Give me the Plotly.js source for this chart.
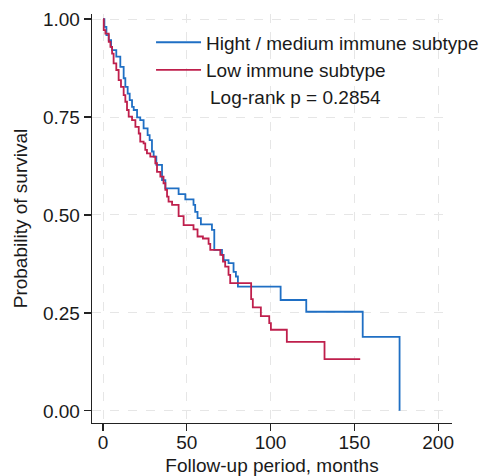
<!DOCTYPE html>
<html>
<head>
<meta charset="utf-8">
<script src="https://cdn.plot.ly/plotly-3.0.1.min.js"></script>
<style>html,body{margin:0;padding:0;background:#fff;}#chart{width:483px;height:476px;}</style>
</head>
<body>
<div id="chart"></div>
<script>
// Kaplan-Meier step data
var seriesNames = ["Hight / medium immune subtype", "Low immune subtype"];
var pValueText = "Log-rank p = 0.2854";

var highTime = [0, 0.8, 2.0, 3.4, 4.8, 5.4, 7.9, 10.3, 12.3, 13.3, 14.7, 15.9, 17.3, 18.3, 20.3, 22.2, 24.2, 26.6, 27.8, 29.2, 30.2, 31.8, 35.2, 37.2, 45.1, 49.1, 54.0, 55.0, 56.4, 58.4, 65.0, 66.4, 71.0, 72.0, 74.9, 77.9, 79.3, 80.5, 106, 121.3, 155, 177];
var highSurv = [1, 0.980, 0.959, 0.946, 0.929, 0.921, 0.904, 0.878, 0.849, 0.827, 0.810, 0.793, 0.776, 0.768, 0.749, 0.742, 0.721, 0.704, 0.691, 0.662, 0.649, 0.628, 0.589, 0.568, 0.553, 0.540, 0.526, 0.508, 0.492, 0.476, 0.462, 0.411, 0.398, 0.385, 0.377, 0.355, 0.343, 0.317, 0.283, 0.253, 0.189, 0];

var lowTime = [0, 0.4, 1.4, 3.4, 4.4, 5.4, 6.3, 7.9, 9.3, 10.7, 12.3, 13.3, 14.3, 15.3, 17.3, 19.3, 21.3, 22.2, 24.2, 25.2, 26.2, 28.2, 31.2, 32.2, 34.2, 36.1, 37.2, 38.2, 39.1, 41.2, 45.1, 48.1, 54.0, 56.4, 59.6, 63.0, 64.0, 70.0, 71.6, 72.9, 74.9, 75.9, 88.4, 89.4, 94.2, 99.2, 100.2, 109.7, 132.2, 153.5];
var lowSurv = [1, 0.972, 0.963, 0.942, 0.929, 0.912, 0.887, 0.870, 0.844, 0.827, 0.806, 0.789, 0.768, 0.751, 0.742, 0.725, 0.708, 0.687, 0.683, 0.666, 0.657, 0.649, 0.632, 0.610, 0.598, 0.581, 0.564, 0.547, 0.534, 0.526, 0.497, 0.474, 0.463, 0.445, 0.440, 0.426, 0.411, 0.398, 0.381, 0.368, 0.347, 0.326, 0.285, 0.264, 0.242, 0.224, 0.207, 0.176, 0.132, 0.132];

var xTicks = [0, 50, 100, 150, 200];
var yTicks = [0, 0.25, 0.5, 0.75, 1];
var yTickText = ["0.00", "0.25", "0.50", "0.75", "1.00"];

var FONT = "Liberation Sans, Arial, Helvetica, sans-serif";
var FS = 19;

var traces = [
  {x: highTime, y: highSurv, name: seriesNames[0], type: "scatter", mode: "lines",
   line: {shape: "hv", color: "#1f6fc4", width: 1.8}},
  {x: lowTime, y: lowSurv, name: seriesNames[1], type: "scatter", mode: "lines",
   line: {shape: "hv", color: "#bf1f4c", width: 1.8}}
];

var layout = {
  width: 483, height: 476,
  margin: {l: 92, r: 31, t: 14, b: 53, pad: 0, autoexpand: false},
  paper_bgcolor: "#ffffff", plot_bgcolor: "#ffffff",
  font: {family: FONT, size: FS, color: "#1a1a1a"},
  showlegend: true,
  legend: {x: 0.164, y: 0.977, xanchor: "left", yanchor: "top", bgcolor: "rgba(0,0,0,0)",
           borderwidth: 0, itemwidth: 45, tracegroupgap: 0,
           font: {family: FONT, size: FS, color: "#1a1a1a"}},
  xaxis: {range: [-6.6, 208.3], tickvals: xTicks, ticktext: xTicks.map(String),
          ticks: "outside", ticklen: 7, tickwidth: 1.2, tickcolor: "#222",
          showline: true, linecolor: "#222", linewidth: 1.3, zeroline: false,
          showgrid: true, gridcolor: "#e6e6e6", griddash: "dash", gridwidth: 1,
          automargin: false,
          title: {text: "Follow-up period, months", font: {size: FS}, standoff: 2},
          tickfont: {size: FS}},
  yaxis: {range: [-0.031, 1.013], tickvals: yTicks, ticktext: yTickText,
          ticks: "outside", ticklen: 7, tickwidth: 1.2, tickcolor: "#222",
          showline: true, linecolor: "#222", linewidth: 1.3, zeroline: false,
          showgrid: true, gridcolor: "#e6e6e6", griddash: "dash", gridwidth: 1,
          automargin: false,
          title: {text: "Probability of survival", font: {size: FS}, standoff: 10},
          tickfont: {size: FS}},
  annotations: [
    {text: pValueText, xref: "paper", yref: "paper", x: 0.322, y: 0.795,
     xanchor: "left", yanchor: "middle", showarrow: false, font: {size: FS}}
  ]
};

Plotly.newPlot("chart", traces, layout, {displayModeBar: false, staticPlot: true}).then(function () {
  // nudge x tick labels up slightly to match the reference spacing
  var labels = document.querySelectorAll(".xtick text");
  labels.forEach(function (t) {
    var y = parseFloat(t.getAttribute("y") || 0);
    t.setAttribute("y", y - 5);
  });
});
</script>
</body>
</html>
